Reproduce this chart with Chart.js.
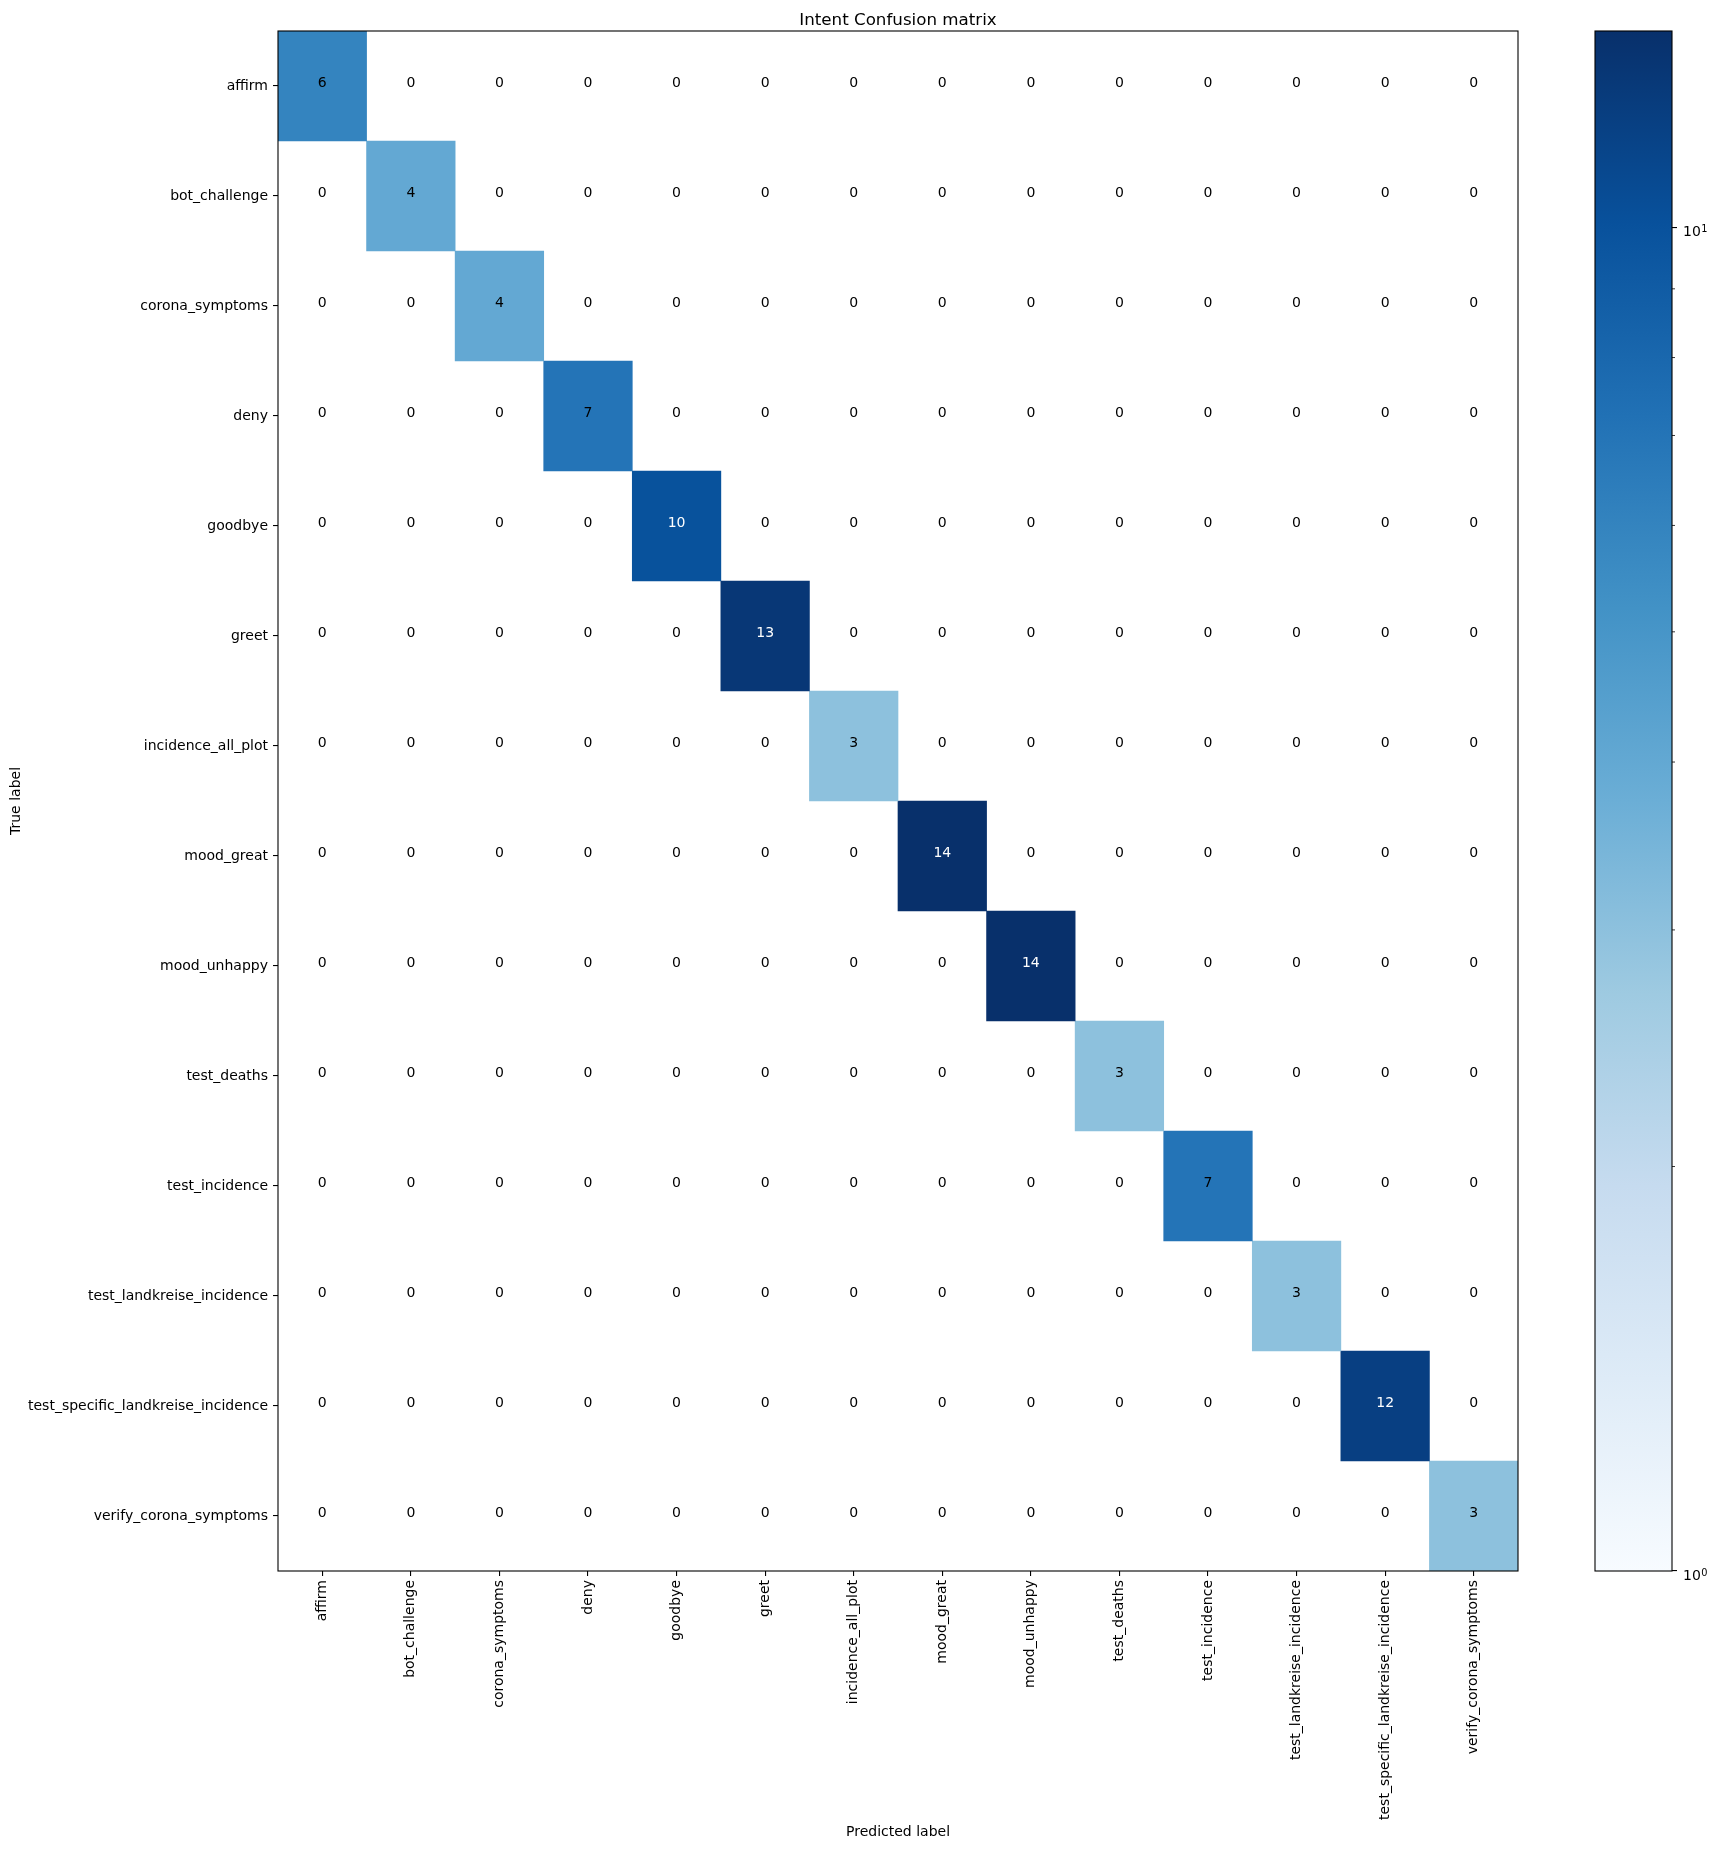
<!DOCTYPE html>
<html><head><meta charset="utf-8">
<script src="https://cdn.jsdelivr.net/npm/chart.js@4.4.1/dist/chart.umd.min.js"></script>
<style>
html,body{margin:0;padding:0;background:#fff;}
#wrap{position:relative;width:1717px;height:1849px;overflow:hidden;}
#main{position:absolute;left:0;top:0;}
#cbar{position:absolute;left:1500px;top:0;}
</style></head><body>
<div id="wrap"><canvas id="main" width="1717" height="1849"></canvas><canvas id="cbar" width="217" height="1849"></canvas></div>
<script>
// ---- data ----
const intentLabels = ['affirm','bot_challenge','corona_symptoms','deny','goodbye','greet','incidence_all_plot','mood_great','mood_unhappy','test_deaths','test_incidence','test_landkreise_incidence','test_specific_landkreise_incidence','verify_corona_symptoms'];
const matrix = [
  [6,0,0,0,0,0,0,0,0,0,0,0,0,0],
  [0,4,0,0,0,0,0,0,0,0,0,0,0,0],
  [0,0,4,0,0,0,0,0,0,0,0,0,0,0],
  [0,0,0,7,0,0,0,0,0,0,0,0,0,0],
  [0,0,0,0,10,0,0,0,0,0,0,0,0,0],
  [0,0,0,0,0,13,0,0,0,0,0,0,0,0],
  [0,0,0,0,0,0,3,0,0,0,0,0,0,0],
  [0,0,0,0,0,0,0,14,0,0,0,0,0,0],
  [0,0,0,0,0,0,0,0,14,0,0,0,0,0],
  [0,0,0,0,0,0,0,0,0,3,0,0,0,0],
  [0,0,0,0,0,0,0,0,0,0,7,0,0,0],
  [0,0,0,0,0,0,0,0,0,0,0,3,0,0],
  [0,0,0,0,0,0,0,0,0,0,0,0,12,0],
  [0,0,0,0,0,0,0,0,0,0,0,0,0,3]
];
const chartTitle = 'Intent Confusion matrix';
const xAxisTitle = 'Predicted label';
const yAxisTitle = 'True label';
const colorbarMajor = [1, 10];
const colorbarMajorBase = ['10', '10'];
const colorbarMajorExp = ['0', '1'];
const colorbarMinor = [2,3,4,5,6,7,8,9];

// ---- colormap (matplotlib Blues) ----
const BLUES = [
  [0.96862745,0.98431373,1.0],[0.87058824,0.92156863,0.96862745],[0.77647059,0.85882353,0.9372549],
  [0.61960784,0.79215686,0.88235294],[0.41960784,0.68235294,0.83921569],[0.25882353,0.57254902,0.77647059],
  [0.12941176,0.44313725,0.70980392],[0.03137255,0.31764706,0.61176471],[0.03137255,0.18823529,0.41960784]
];
function rgbStr(c){return 'rgb('+Math.round(c[0]*255)+','+Math.round(c[1]*255)+','+Math.round(c[2]*255)+')';}
function blues(t){
  t = Math.min(1, Math.max(0, t));
  const p = t*(BLUES.length-1); const i = Math.min(BLUES.length-2, Math.floor(p)); const f = p - i;
  const a = BLUES[i], b = BLUES[i+1];
  return rgbStr([a[0]+(b[0]-a[0])*f, a[1]+(b[1]-a[1])*f, a[2]+(b[2]-a[2])*f]);
}
const vmin = 1;
const vmax = Math.max(...matrix.flat());
function norm(v){ return Math.log(v/vmin)/Math.log(vmax/vmin); }
function cellColor(v){ return v > 0 ? blues(norm(Math.max(v, vmin))) : 'rgba(0,0,0,0)'; }

const FONT = '"DejaVu Sans", sans-serif';
Chart.defaults.font.family = FONT;
Chart.defaults.font.size = 14;
Chart.defaults.color = '#000';

const datasets = matrix.map((row, r) => ({
  label: intentLabels[r],
  data: row.map(() => [r, r + 1]),
  backgroundColor: row.map(cellColor),
  borderWidth: 0,
  barPercentage: 1,
  categoryPercentage: 1,
  grouped: false
}));

const cellText = {
  id: 'cellText',
  afterDatasetsDraw(chart){
    const {ctx, scales:{x, y}} = chart;
    const thresh = vmax / 2;
    ctx.save();
    ctx.font = '14px ' + FONT; ctx.textAlign = 'center'; ctx.textBaseline = 'alphabetic';
    matrix.forEach((row, r) => row.forEach((v, c) => {
      ctx.fillStyle = v > thresh ? '#ffffff' : '#000000';
      ctx.fillText(String(v), x.getPixelForValue(c), y.getPixelForValue(r + 0.5) + 1);
    }));
    ctx.restore();
  }
};
const frameAndTitle = {
  id: 'frameAndTitle',
  afterDraw(chart){
    const {ctx, chartArea:a} = chart;
    ctx.save();
    ctx.strokeStyle = '#000'; ctx.lineWidth = 1.1;
    ctx.strokeRect(a.left, a.top, a.right - a.left, a.bottom - a.top);
    ctx.fillStyle = '#000'; ctx.font = '16.7px ' + FONT; ctx.textAlign = 'center'; ctx.textBaseline = 'alphabetic';
    ctx.fillText(chartTitle, (a.left + a.right) / 2, a.top - 6.5);
    ctx.restore();
  }
};

new Chart(document.getElementById('main'), {
  type: 'bar',
  data: { labels: intentLabels, datasets },
  options: {
    responsive: false, animation: false, devicePixelRatio: 1, events: [],
    layout: { padding: { top: 31, right: 199, bottom: 0, left: 0 } },
    plugins: { legend: { display: false }, tooltip: { enabled: false }, title: { display: false } },
    scales: {
      x: {
        type: 'category', offset: true,
        grid: { offset: false, drawOnChartArea: false, tickLength: 5, lineWidth: 1.1, tickWidth: 1.1, tickColor: '#000' },
        border: { display: false },
        ticks: { autoSkip: false, minRotation: 90, maxRotation: 90, padding: 4, color: '#000', font: { size: 14 } },
        title: { display: true, text: xAxisTitle, color: '#000', font: { size: 14 }, padding: { top: 4, bottom: 8 } },
        afterFit: s => { s.height = 278; }
      },
      y: {
        type: 'linear', min: 0, max: intentLabels.length, reverse: true,
        afterBuildTicks: s => { s.ticks = intentLabels.map((_, i) => ({ value: i + 0.5 })); },
        grid: { drawOnChartArea: false, tickLength: 5, lineWidth: 1.1, tickWidth: 1.1, tickColor: '#000' },
        border: { display: false },
        ticks: { autoSkip: false, padding: 5, color: '#000', font: { size: 14 }, callback: v => intentLabels[Math.floor(v)] },
        title: { display: true, text: yAxisTitle, color: '#000', font: { size: 14 }, padding: { top: 8, bottom: 4 } },
        afterFit: s => { s.width = 278; }
      }
    }
  },
  plugins: [cellText, frameAndTitle]
});

// ---- colorbar ----
const cbarDecor = {
  id: 'cbarDecor',
  afterDraw(chart){
    const {ctx, chartArea:a, scales:{y}} = chart;
    ctx.save();
    ctx.strokeStyle = '#000'; ctx.lineWidth = 0.8;
    colorbarMinor.forEach(v => {
      const py = y.getPixelForValue(v);
      ctx.beginPath(); ctx.moveTo(a.right, py); ctx.lineTo(a.right + 3, py); ctx.stroke();
    });
    ctx.lineWidth = 1.1;
    ctx.strokeRect(a.left, a.top, a.right - a.left, a.bottom - a.top);
    // major labels as 10 with superscript exponent
    ctx.fillStyle = '#000'; ctx.textAlign = 'left'; ctx.textBaseline = 'alphabetic';
    colorbarMajor.forEach((v, i) => {
      const py = y.getPixelForValue(v);
      const x0 = a.right + 11;
      ctx.font = '14px ' + FONT;
      ctx.fillText(colorbarMajorBase[i], x0, py + 9);
      const w = ctx.measureText(colorbarMajorBase[i]).width;
      ctx.font = '9.8px ' + FONT;
      ctx.fillText(colorbarMajorExp[i], x0 + w + 0.5, py + 4.5);
    });
    ctx.restore();
  }
};
new Chart(document.getElementById('cbar'), {
  type: 'bar',
  data: { labels: ['colorbar'], datasets: [{
    data: [[vmin, vmax]],
    backgroundColor: c => {
      const a = c.chart.chartArea; if (!a) return 'rgba(0,0,0,0)';
      const g = c.chart.ctx.createLinearGradient(0, a.bottom, 0, a.top);
      BLUES.forEach((col, i) => g.addColorStop(i / (BLUES.length - 1), rgbStr(col)));
      return g;
    },
    borderWidth: 0, barPercentage: 1, categoryPercentage: 1
  }]},
  options: {
    responsive: false, animation: false, devicePixelRatio: 1, events: [],
    layout: { padding: { top: 31, right: 0, bottom: 278, left: 95 } },
    plugins: { legend: { display: false }, tooltip: { enabled: false } },
    scales: {
      x: { display: false },
      y: {
        type: 'logarithmic', position: 'right', min: vmin, max: vmax,
        afterBuildTicks: s => { s.ticks = colorbarMajor.concat(colorbarMinor).sort((p, q) => p - q).map(v => ({ value: v })); },
        afterFit: s => { s.width = 45; },
        ticks: { autoSkip: false, padding: 5, color: '#000', font: { size: 14 }, callback: () => '' },
        grid: { drawOnChartArea: false, tickLength: 5, lineWidth: 1.1, tickWidth: 1.1,
          tickColor: c => (c.tick && colorbarMajor.includes(c.tick.value)) ? '#000' : 'rgba(0,0,0,0)' },
        border: { display: false }
      }
    }
  },
  plugins: [cbarDecor]
});
</script>
</body></html>
